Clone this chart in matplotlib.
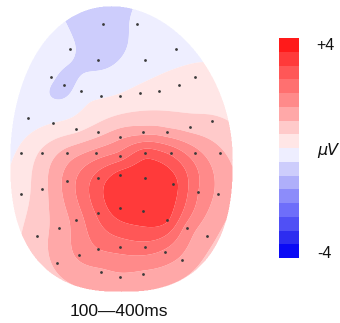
import numpy as np
import matplotlib
matplotlib.use("Agg")
import matplotlib.pyplot as plt
from matplotlib.colors import ListedColormap, BoundaryNorm
from matplotlib.cm import ScalarMappable

# ---- data ----
elec_x = [103, 137, 70, 176, 98, 145,
          51, 195, 64, 81, 101, 120, 140, 159, 179,
          28, 53, 76, 98, 120, 143, 167, 190, 212,
          21, 42, 67, 96, 120, 145, 171, 195, 220,
          21, 42, 67, 98, 120, 145, 173, 198, 218,
          37, 59, 76, 98, 120, 143, 167, 187, 207,
          57, 79, 98, 120, 145, 165, 182,
          101, 120, 143]
elec_y = [24, 24, 49, 49, 60, 60,
          77, 77, 85, 91, 96, 96, 93, 91, 85,
          118, 123, 129, 132, 137, 132, 132, 127, 121,
          153, 153, 153, 153, 156, 153, 153, 153, 153,
          194, 189, 181, 178, 175, 178, 184, 192, 194,
          236, 228, 220, 213, 208, 211, 220, 228, 236,
          263, 255, 249, 247, 247, 252, 260,
          272, 277, 274]
elec_v = [-0.8, -0.4, -0.42, -0.2, -0.65, -0.25,
          -0.35, 0.15, -0.78, -0.2, -0.05, 0.05, 0.15, 0.2, 0.2,
          -0.25, 0.0, 0.35, 0.8, 1.4, 1.3, 1.2, 0.8, 0.6,
          0.1, 0.6, 1.2, 1.7, 2.2, 2.8, 2.4, 1.7, 1.1,
          0.3, 0.8, 1.7, 2.7, 3.2, 3.3, 3.2, 2.0, 1.4,
          0.8, 1.2, 1.7, 2.6, 3.3, 3.3, 3.1, 1.8, 1.2,
          1.1, 1.6, 2.0, 2.2, 2.3, 1.9, 1.4,
          1.4, 1.4, 1.4]

levels = np.arange(-4, 4.01, 0.5)
band_colors = ["#0a0af5", "#2d2df0", "#5050f5", "#6e6efa", "#8c8cfa", "#afaffa",
               "#cdcdfc", "#eeeeff",
               "#ffe6e6", "#ffcaca", "#ffa8a8", "#ff8a8a", "#ff7070", "#ff5757",
               "#ff3a3a", "#ff1a1a"]
unit_label = "μV"
top_label = "+4"
bottom_label = "-4"
title = "100—400ms"

# ---- interpolation (thin plate spline) ----
px = np.array(elec_x, float) / 100.0
py = np.array(elec_y, float) / 100.0
pv = np.array(elec_v, float)
n = len(px)

def tps_kernel(r):
    with np.errstate(divide="ignore", invalid="ignore"):
        k = r ** 2 * np.log(r)
    return np.nan_to_num(k)

d = np.hypot(px[:, None] - px[None, :], py[:, None] - py[None, :])
K = tps_kernel(d) + 0.004 * np.eye(n)
P = np.column_stack([np.ones(n), px, py])
A = np.zeros((n + 3, n + 3))
A[:n, :n] = K
A[:n, n:] = P
A[n:, :n] = P.T
rhs = np.concatenate([pv, np.zeros(3)])
sol = np.linalg.solve(A, rhs)
w, a = sol[:n], sol[n:]

gx = np.linspace(0, 245, 491)
gy = np.linspace(0, 300, 601)
GX, GY = np.meshgrid(gx, gy)
gxs, gys = GX / 100.0, GY / 100.0
Z = a[0] + a[1] * gxs + a[2] * gys
for i in range(n):
    Z += w[i] * tps_kernel(np.hypot(gxs - px[i], gys - py[i]))

# head outline (egg shape)
cx, cy, ha = 121.5, 160.0, 111.5
b_top, b_bot = 154.0, 132.0
dy = GY - cy
b = np.where(dy < 0, b_top, b_bot)
t = np.abs(dy) / b
shift = np.where(dy < 0, -10.0 * t ** 2, 0.0)
ex = np.where(dy < 0, 2.0, 2.5)
inside = (np.abs((GX - cx - shift) / ha) ** ex + t ** ex) <= 1.0
Z = np.where(inside, np.clip(Z, -3.99, 3.99), np.nan)

# ---- figure ----
fig = plt.figure(figsize=(3.4, 3.23), dpi=100)
ax = fig.add_axes([0, 0, 1, 1])
ax.set_xlim(0, 340)
ax.set_ylim(323, 0)
ax.axis("off")

cmap = ListedColormap(band_colors)
norm = BoundaryNorm(levels, cmap.N)
ax.contourf(GX, GY, Z, levels=levels, cmap=cmap, norm=norm, antialiased=True)
ax.scatter(elec_x, elec_y, s=4, c="#3a3a3a", zorder=3, linewidths=0)

ax.text(119, 311, title, ha="center", va="center", fontsize=12.5,
        family="Liberation Sans", color="#111111")
ax.text(316, 46, top_label, ha="left", va="center", fontsize=11.5,
        family="Liberation Sans", color="#111111")
ax.text(317, 253, bottom_label, ha="left", va="center", fontsize=11.5,
        family="Liberation Sans", color="#111111")
ax.text(317, 151, unit_label, ha="left", va="center", fontsize=11.5,
        family="DejaVu Sans", style="italic", color="#111111")

cax = fig.add_axes([279 / 340, 1 - 258 / 323, 20 / 340, 220 / 323])
cb = fig.colorbar(ScalarMappable(norm=norm, cmap=cmap), cax=cax)
cb.outline.set_visible(False)
cax.tick_params(which="both", length=0, labelright=False)
cax.minorticks_off()

fig.savefig("out.png", dpi=100)
